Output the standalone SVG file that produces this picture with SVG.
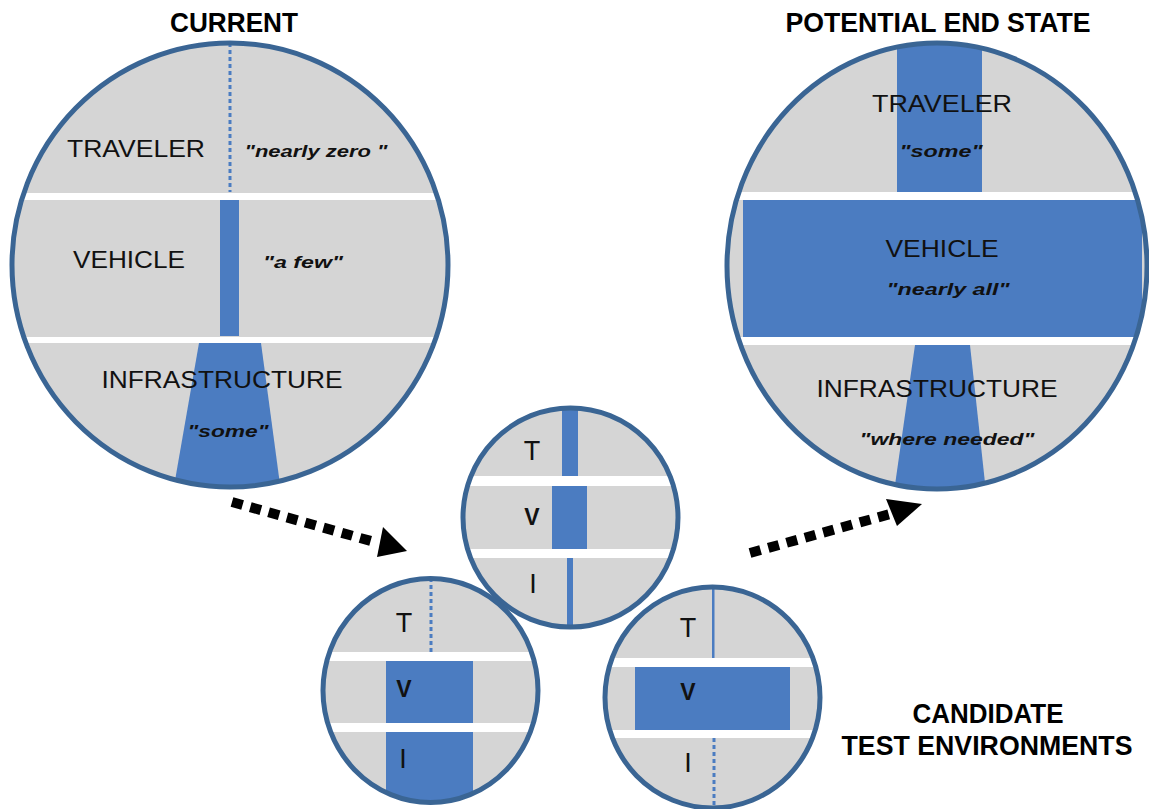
<svg xmlns="http://www.w3.org/2000/svg" width="1149" height="809" viewBox="0 0 1149 809">
<style>
.gray{fill:#d5d5d5}
.band{fill:#ffffff}
.blue{fill:#4b7cc1}
.rim{fill:none;stroke:#3a6594;stroke-width:5}
.dot{stroke:#4b7cc1;stroke-width:3;stroke-dasharray:4 3;fill:none}
.lbl{font-family:"Liberation Sans",Arial,sans-serif;font-size:24px;fill:#111;text-anchor:middle}
.q{font-family:"Liberation Sans",Arial,sans-serif;font-size:17px;font-weight:bold;font-style:italic;fill:#111;text-anchor:middle}
.ttl{font-family:"Liberation Sans",Arial,sans-serif;font-size:27px;font-weight:bold;fill:#000;text-anchor:middle}
.sm{font-family:"Liberation Sans",Arial,sans-serif;font-size:27px;fill:#111;text-anchor:middle}
.smb{font-family:"Liberation Sans",Arial,sans-serif;font-size:23px;font-weight:bold;fill:#111;text-anchor:middle}
.arr{fill:none;stroke:#000;stroke-width:10;stroke-dasharray:11 8}
</style>
<defs>
<clipPath id="c1"><ellipse cx="230" cy="265" rx="218" ry="222"/></clipPath>
<clipPath id="c2"><ellipse cx="937" cy="266" rx="210" ry="223"/></clipPath>
<clipPath id="c3"><ellipse cx="570.5" cy="517.5" rx="107.5" ry="109.5"/></clipPath>
<clipPath id="c4"><ellipse cx="430.5" cy="690.5" rx="107.5" ry="112"/></clipPath>
<clipPath id="c5"><ellipse cx="712.5" cy="697.5" rx="107.5" ry="110.5"/></clipPath>
</defs>
<rect width="1149" height="809" fill="#ffffff"/>

<g id="current">
<text class="ttl" x="234" y="32" textLength="128" lengthAdjust="spacingAndGlyphs">CURRENT</text>
<g clip-path="url(#c1)">
<ellipse class="gray" cx="230" cy="265" rx="218" ry="222"/>
<rect class="band" x="0" y="193" width="460" height="7"/>
<rect class="band" x="0" y="337" width="460" height="6"/>
<line class="dot" x1="230" y1="43" x2="230" y2="192"/>
<rect class="blue" x="220" y="200" width="19" height="136"/>
<polygon class="blue" points="199,343 261,343 281,492 173,492"/>
</g>
<ellipse class="rim" cx="230" cy="265" rx="218" ry="222"/>
<text class="lbl" x="136" y="157" textLength="138" lengthAdjust="spacingAndGlyphs">TRAVELER</text>
<text class="q" x="316" y="157" textLength="143" lengthAdjust="spacingAndGlyphs">"nearly zero "</text>
<text class="lbl" x="129" y="268" textLength="112" lengthAdjust="spacingAndGlyphs">VEHICLE</text>
<text class="q" x="303" y="268" textLength="80" lengthAdjust="spacingAndGlyphs">"a few"</text>
<text class="lbl" x="222" y="388" textLength="241" lengthAdjust="spacingAndGlyphs">INFRASTRUCTURE</text>
<text class="q" x="228" y="437" textLength="81" lengthAdjust="spacingAndGlyphs">"some"</text>
</g>

<g id="end-state">
<text class="ttl" x="938" y="32" textLength="305" lengthAdjust="spacingAndGlyphs">POTENTIAL END STATE</text>
<g clip-path="url(#c2)">
<ellipse class="gray" cx="937" cy="266" rx="210" ry="223"/>
<rect class="blue" x="897" y="40" width="85" height="152"/>
<rect class="band" x="720" y="192" width="440" height="8"/>
<rect class="band" x="720" y="337" width="440" height="8"/>
<rect class="blue" x="743" y="200" width="399" height="137"/>
<polygon class="blue" points="915,345 970,345 986,492 894,492"/>
</g>
<ellipse class="rim" cx="937" cy="266" rx="210" ry="223"/>
<text class="lbl" x="942" y="112" textLength="140" lengthAdjust="spacingAndGlyphs">TRAVELER</text>
<text class="q" x="941" y="157" textLength="83" lengthAdjust="spacingAndGlyphs">"some"</text>
<text class="lbl" x="942" y="257" textLength="113" lengthAdjust="spacingAndGlyphs">VEHICLE</text>
<text class="q" x="948" y="295" textLength="123" lengthAdjust="spacingAndGlyphs">"nearly all"</text>
<text class="lbl" x="937" y="397" textLength="241" lengthAdjust="spacingAndGlyphs">INFRASTRUCTURE</text>
<text class="q" x="947" y="445" textLength="175" lengthAdjust="spacingAndGlyphs">"where needed"</text>
</g>

<g id="env-a">
<g clip-path="url(#c3)">
<ellipse class="gray" cx="570.5" cy="517.5" rx="107.5" ry="109.5"/>
<rect class="blue" x="562" y="405" width="16" height="71"/>
<rect class="band" x="460" y="476" width="220" height="10"/>
<rect class="blue" x="552" y="486" width="35" height="63"/>
<rect class="band" x="460" y="549" width="220" height="9"/>
<rect class="blue" x="567" y="558" width="6" height="72"/>
</g>
<ellipse class="rim" cx="570.5" cy="517.5" rx="107.5" ry="109.5"/>
<text class="sm" x="532" y="460">T</text>
<text class="smb" x="532" y="525">V</text>
<text class="sm" x="533" y="593">I</text>
</g>

<g id="env-b">
<g clip-path="url(#c4)">
<ellipse class="gray" cx="430.5" cy="690.5" rx="107.5" ry="112"/>
<line class="dot" x1="431" y1="578" x2="431" y2="652"/>
<rect class="band" x="320" y="652" width="220" height="9"/>
<rect class="blue" x="386" y="661" width="87" height="62"/>
<rect class="band" x="320" y="723" width="220" height="9"/>
<rect class="blue" x="386" y="732" width="87" height="76"/>
</g>
<ellipse class="rim" cx="430.5" cy="690.5" rx="107.5" ry="112"/>
<text class="sm" x="404" y="632">T</text>
<text class="smb" x="404" y="697">V</text>
<text class="sm" x="403" y="768">I</text>
</g>

<g id="env-c">
<g clip-path="url(#c5)">
<ellipse class="gray" cx="712.5" cy="697.5" rx="107.5" ry="110.5"/>
<rect class="blue" x="712" y="585" width="2.5" height="73"/>
<rect class="band" x="600" y="658" width="225" height="9"/>
<rect class="blue" x="635" y="667" width="155" height="63"/>
<rect class="band" x="600" y="730" width="225" height="8"/>
<line class="dot" x1="714" y1="738" x2="714" y2="810"/>
</g>
<ellipse class="rim" cx="712.5" cy="697.5" rx="107.5" ry="110.5"/>
<text class="sm" x="688" y="637">T</text>
<text class="smb" x="688" y="700">V</text>
<text class="sm" x="688" y="772">I</text>
</g>

<g id="caption">
<text class="ttl" x="988" y="723" textLength="151" lengthAdjust="spacingAndGlyphs">CANDIDATE</text>
<text class="ttl" x="987" y="755" textLength="291" lengthAdjust="spacingAndGlyphs">TEST ENVIRONMENTS</text>
</g>

<g id="connectors">
<path class="arr" d="M232,502 L378,543"/>
<polygon points="407,551 377,557 383,527"/>
<path class="arr" d="M750,553 L890,514"/>
<polygon points="922,504 897,526 886,499"/>
</g>
</svg>
